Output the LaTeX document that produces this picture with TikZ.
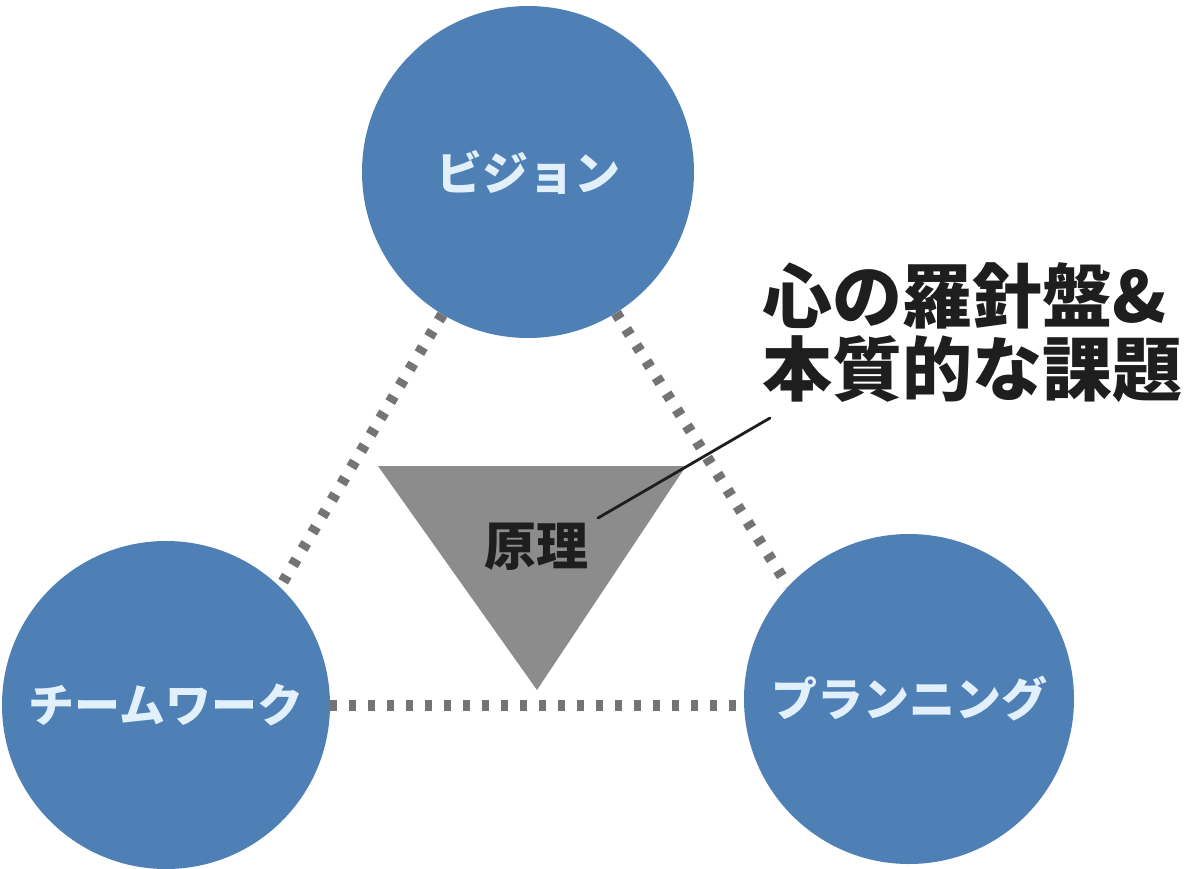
\documentclass[tikz,border=0pt]{standalone}
\usepackage{fontspec}
\newfontfamily\jp{Noto Sans CJK JP}
\definecolor{circblue}{HTML}{4E7FB5}
\definecolor{circtext}{HTML}{E2F0FC}
\definecolor{trigray}{HTML}{8C8C8C}
\definecolor{dotgray}{HTML}{747474}
\definecolor{inktext}{HTML}{1E1E1E}
\begin{document}
\begin{tikzpicture}[x=1pt,y=-1pt,
  disc/.style={circle,fill=circblue,minimum size=332pt,inner sep=0pt,
    text=circtext,font=\jp\bfseries\fontsize{46}{50}\selectfont},
  dotlink/.style={draw=dotgray,line width=11pt,dash pattern=on 7pt off 12pt},
  callout/.style={align=left,inner sep=0pt,text=inktext,
    font=\jp\bfseries\fontsize{70}{73}\selectfont},
  leader/.style={draw=inktext,line width=2.8pt,line cap=round}
  ]
\useasboundingbox[fill=white] (0,0) rectangle (1200,868);
% circles
\node[disc] (vis) at (528,172) {ビジョン};
\node[disc,minimum size=328pt] (team) at (166,705) {チームワーク};
\node[disc,minimum size=330pt] (plan) at (909,699) {プランニング};
% dotted connectors
\draw[dotlink] (vis.239) -- (team.46);
\draw[dotlink] (vis.302) -- (plan.137);
\draw[dotlink] (team.east) -- (team.east -| plan.west);
% triangle
\coordinate (tl) at (378,466);
\coordinate (tr) at (686,466);
\coordinate (tb) at (537,690);
\fill[trigray] (tl) -- (tr) -- (tb) -- cycle;
\node[text=inktext,font=\jp\bfseries\fontsize{52}{56}\selectfont,inner sep=0pt] (gen) at (536,547) {原理};
% callout
\node[callout,anchor=north west] (note) at (762,262) {心の羅針盤\&\\本質的な課題};
\coordinate (ls) at (770,418);
\coordinate (le) at (598,518);
\draw[leader] (ls) -- (le);
\end{tikzpicture}
\end{document}
